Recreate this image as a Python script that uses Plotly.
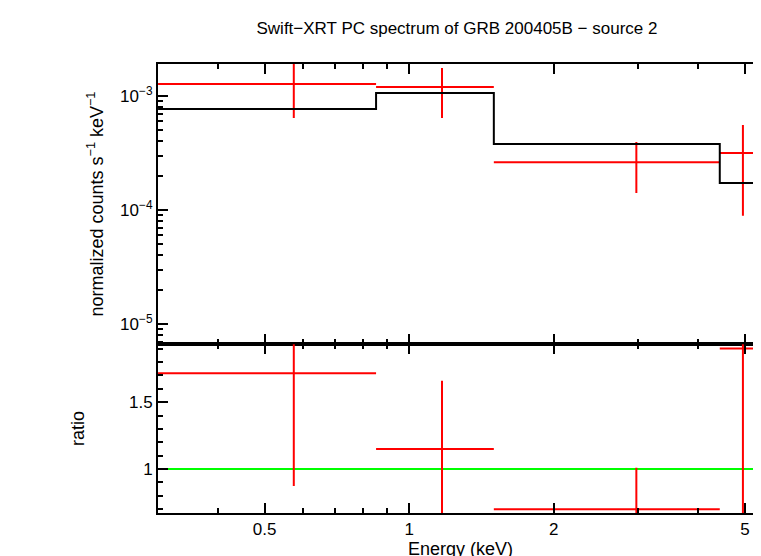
import plotly.graph_objects as go
from plotly.subplots import make_subplots

edges = [0.3, 0.853, 1.5, 4.43, 5.45]
centers = [0.575, 1.17, 2.97, 4.95]
rate = [1.27e-3, 1.2e-3, 2.63e-4, 3.16e-4]
rate_hi = [2.0e-3, 1.76e-3, 3.94e-4, 5.57e-4]
rate_lo = [6.4e-4, 6.4e-4, 1.41e-4, 8.9e-5]
model = [7.7e-4, 1.06e-3, 3.8e-4, 1.73e-4]
ratio = [1.716, 1.15, 0.70, 1.90]
ratio_hi = [2.3, 1.66, 1.01, 2.5]
ratio_lo = [0.873, 0.5, 0.5, 0.5]

xp = [edges[i + 1] - c for i, c in enumerate(centers)]
xm = [c - edges[i] for i, c in enumerate(centers)]

fig = make_subplots(rows=2, cols=1, shared_xaxes=True, vertical_spacing=0,
                    row_heights=[0.624, 0.376])
red = "#ff0000"
fig.add_trace(go.Scatter(x=centers, y=rate, mode="markers", marker=dict(size=1, color=red),
    error_x=dict(type="data", array=xp, arrayminus=xm, color=red, thickness=2, width=0),
    error_y=dict(type="data", array=[h - r for h, r in zip(rate_hi, rate)],
                 arrayminus=[r - l for l, r in zip(rate_lo, rate)], color=red, thickness=2, width=0)),
    row=1, col=1)
fig.add_trace(go.Scatter(x=edges, y=model + [model[-1]], mode="lines", line_shape="hv",
    line=dict(color="black", width=2)), row=1, col=1)
fig.add_trace(go.Scatter(x=[edges[0], edges[-1]], y=[1, 1], mode="lines",
    line=dict(color="#00ff00", width=2)), row=2, col=1)
fig.add_trace(go.Scatter(x=centers, y=ratio, mode="markers", marker=dict(size=1, color=red),
    error_x=dict(type="data", array=xp, arrayminus=xm, color=red, thickness=2, width=0),
    error_y=dict(type="data", array=[h - r for h, r in zip(ratio_hi, ratio)],
                 arrayminus=[r - l for l, r in zip(ratio_lo, ratio)], color=red, thickness=2, width=0)),
    row=2, col=1)

ax = dict(showline=True, linecolor="black", linewidth=2, mirror="ticks", ticks="inside",
          tickcolor="black", tickwidth=1.5, showgrid=False, zeroline=False, automargin=False,
          tickfont=dict(size=17, color="black"))
fig.update_xaxes(type="log", range=[-0.523, 0.7364], tickvals=[0.5, 1, 2, 5],
                 ticktext=["0.5", "1", "2", "5"], ticklen=10,
                 minor=dict(ticks="inside", ticklen=5, tickcolor="black",
                            tickvals=[0.3, 0.4, 0.6, 0.7, 0.8, 0.9, 3, 4]), **ax)
fig.update_xaxes(showticklabels=False, row=1, col=1)
fig.update_xaxes(title=dict(text="Energy (keV)", font=dict(size=18, color="black"), standoff=2), row=2, col=1)
fig.update_yaxes(type="log", range=[-5.175, -2.72], tickvals=[1e-5, 1e-4, 1e-3],
                 ticktext=["10<sup>−5</sup>", "10<sup>−4</sup>", "10<sup>−3</sup>"], ticklen=10,
                 minor=dict(ticks="inside", ticklen=5, tickcolor="black",
                            tickvals=[k * 10 ** e for e in (-6, -5, -4, -3) for k in range(2, 10)]),
                 title=dict(text="normalized counts s<sup>−1</sup> keV<sup>−1</sup>",
                            font=dict(size=18, color="black"), standoff=12), row=1, col=1, **ax)
fig.update_yaxes(range=[0.672, 1.933], tickvals=[1, 1.5], ticktext=["1", "1.5"], ticklen=10,
                 minor=dict(ticks="inside", ticklen=5, tickcolor="black", dtick=0.1),
                 title=dict(text="ratio", font=dict(size=18, color="black"), standoff=40),
                 row=2, col=1, **ax)
fig.update_layout(width=761, height=556, showlegend=False, plot_bgcolor="white", paper_bgcolor="white",
                  margin=dict(l=150, r=6, t=56, b=51, autoexpand=False), font=dict(family="Liberation Sans"),
                  title=dict(text="Swift−XRT PC spectrum of GRB 200405B − source 2", x=0.59, xanchor="center",
                             y=0.975, font=dict(size=17, color="black")))
fig.write_html("out.html")
